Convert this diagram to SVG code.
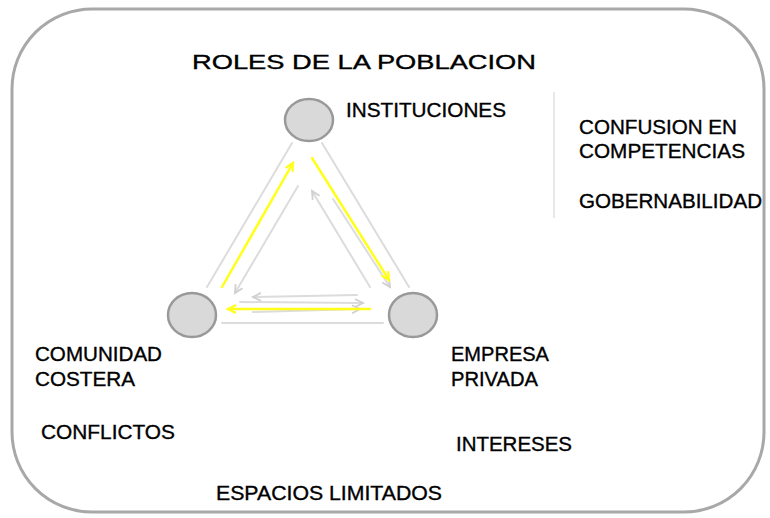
<svg xmlns="http://www.w3.org/2000/svg" width="770" height="518" viewBox="0 0 770 518">
<style>
.t{font-family:"Liberation Sans",Arial,sans-serif;font-size:20px;fill:#000;stroke:#000;stroke-width:0.35}
.node{fill:#d9d9d9;stroke:#999;stroke-width:2.5}
.g{stroke:#dcdcdc;stroke-width:2;fill:none;stroke-linecap:round}
.y{stroke:#ffff1a;stroke-width:2.5;fill:none;stroke-linecap:round}
</style>
<defs>
<marker id="ag" markerWidth="12" markerHeight="12" refX="9" refY="5" orient="auto" markerUnits="userSpaceOnUse">
<path d="M1,1 L9,5 L1,9" fill="none" stroke="#d0d0d0" stroke-width="1.8"/>
</marker>
<marker id="ay" markerWidth="12" markerHeight="12" refX="9" refY="5" orient="auto" markerUnits="userSpaceOnUse">
<path d="M1,1 L9,5 L1,9" fill="none" stroke="#ffff1a" stroke-width="2.2"/>
</marker>
</defs>
<rect x="12" y="9" width="752" height="503" rx="80" ry="80" fill="#fff" stroke="#a8a8a8" stroke-width="3"/>
<text class="t" x="192" y="69" font-size="28" textLength="344" lengthAdjust="spacingAndGlyphs">ROLES DE LA POBLACION</text>
<line x1="554" y1="92" x2="554" y2="218" stroke="#e0e0e0" stroke-width="1.5"/>
<g id="connectors">
<line class="g" x1="207" y1="287" x2="292" y2="143"/>
<line class="g" x1="322" y1="143" x2="409" y2="287"/>
<line class="g" x1="222" y1="323" x2="383" y2="323"/>
<line class="g" x1="298" y1="186" x2="235" y2="293" marker-end="url(#ag)"/>
<line class="g" x1="370" y1="287" x2="312" y2="191" marker-end="url(#ag)"/>
<line class="g" x1="333" y1="199" x2="390" y2="287" marker-end="url(#ag)"/>
<line class="g" x1="357" y1="295" x2="253" y2="297" marker-end="url(#ag)"/>
<line class="g" x1="240" y1="302" x2="363" y2="303" marker-end="url(#ag)"/>
<line class="g" x1="253" y1="312" x2="360" y2="309" marker-end="url(#ag)"/>
<line class="y" x1="222" y1="287" x2="293" y2="163" marker-end="url(#ay)"/>
<line class="y" x1="312" y1="158" x2="389" y2="280" marker-end="url(#ay)"/>
<line class="y" x1="370" y1="309" x2="228" y2="309" marker-end="url(#ay)"/>
</g>
<g id="instituciones">
<ellipse class="node" cx="309" cy="120" rx="24" ry="21"/>
<text class="t" x="346" y="117" textLength="160" lengthAdjust="spacingAndGlyphs">INSTITUCIONES</text>
</g>
<g id="comunidad">
<ellipse class="node" cx="192" cy="315" rx="24" ry="22"/>
<text class="t" x="35" y="361" textLength="127" lengthAdjust="spacingAndGlyphs">COMUNIDAD</text>
<text class="t" x="35" y="386" textLength="100" lengthAdjust="spacingAndGlyphs">COSTERA</text>
</g>
<g id="empresa">
<ellipse class="node" cx="413" cy="315" rx="24" ry="22"/>
<text class="t" x="451" y="361" textLength="98" lengthAdjust="spacingAndGlyphs">EMPRESA</text>
<text class="t" x="451" y="386" textLength="87" lengthAdjust="spacingAndGlyphs">PRIVADA</text>
</g>
<g id="notas">
<text class="t" x="579" y="134" textLength="158" lengthAdjust="spacingAndGlyphs">CONFUSION EN</text>
<text class="t" x="579" y="158" textLength="166" lengthAdjust="spacingAndGlyphs">COMPETENCIAS</text>
<text class="t" x="579" y="208" textLength="183" lengthAdjust="spacingAndGlyphs">GOBERNABILIDAD</text>
<text class="t" x="41" y="439" textLength="134" lengthAdjust="spacingAndGlyphs">CONFLICTOS</text>
<text class="t" x="456" y="451" textLength="116" lengthAdjust="spacingAndGlyphs">INTERESES</text>
<text class="t" x="216" y="500" textLength="226" lengthAdjust="spacingAndGlyphs">ESPACIOS  LIMITADOS</text>
</g>
</svg>
